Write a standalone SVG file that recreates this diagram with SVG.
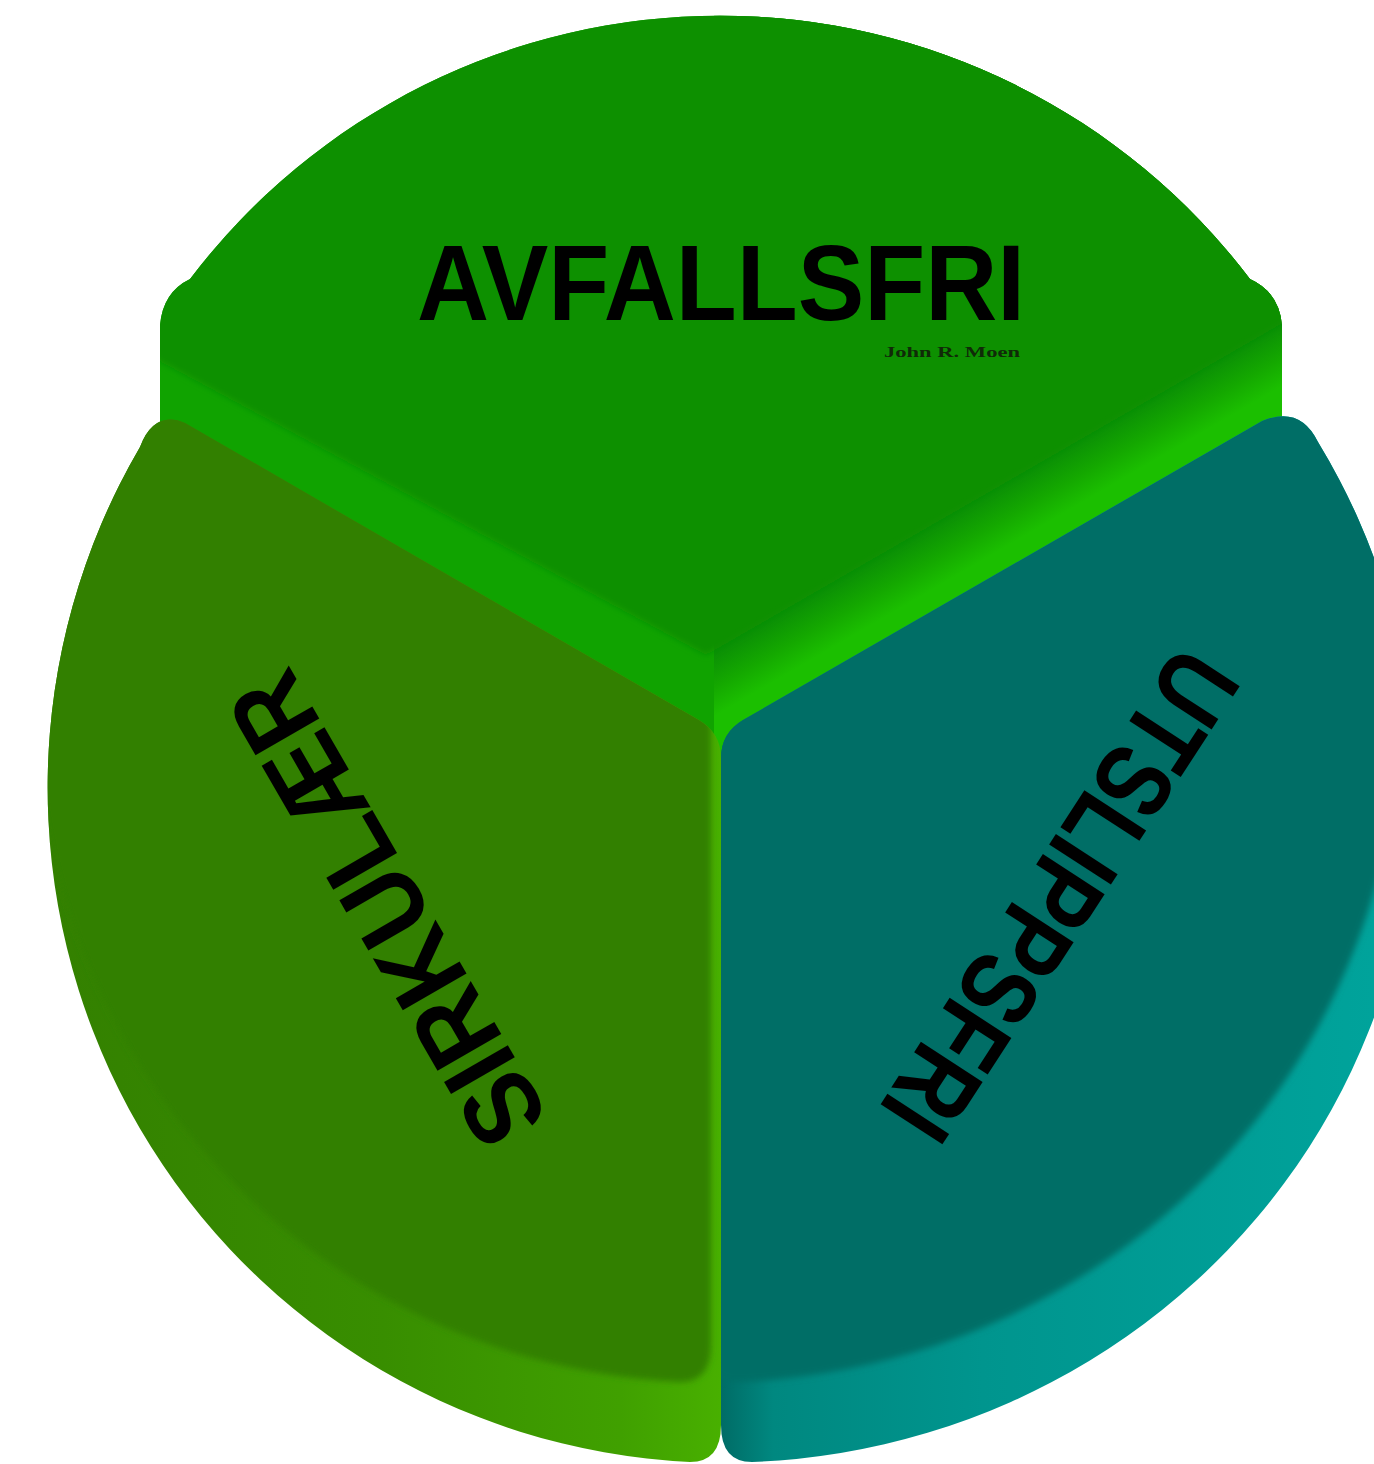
<svg xmlns="http://www.w3.org/2000/svg" xmlns:xlink="http://www.w3.org/1999/xlink" width="1374" height="1464" viewBox="0 0 1374 1464">
<defs>
<style>
.lbl{font-family:"Liberation Sans",Arial,sans-serif;font-weight:bold;fill:#000;font-size:107px}
.sig{font-family:"Liberation Serif","Times New Roman",serif;font-weight:bold;fill:#102a08;font-size:15.5px}
</style>
<path id="tSil" d="M160,425 L160,325 Q163,292 190,279 A665,665 0 0 1 1250,279 Q1279,292 1282,325 L1282,425 L721,775 Z"/>
<path id="lSil" d="M185,423 L699,720 Q721,733 721,758 L721,1425 Q721,1462 690,1462 A675,675 0 0 1 140,447 Q154,410 185,423 Z"/>
<path id="rSil" d="M1262,421 L743,720 Q721,733 721,758 L721,1425 Q721,1462 752,1462 A690,675 0 0 0 1318,442 Q1300,405 1262,421 Z"/>
<clipPath id="cTop"><use xlink:href="#tSil"/></clipPath>
<clipPath id="cL"><use xlink:href="#lSil"/></clipPath>
<clipPath id="cR"><use xlink:href="#rSil"/></clipPath>
<filter id="soft" x="-10%" y="-10%" width="120%" height="120%"><feGaussianBlur stdDeviation="3"/></filter>
<linearGradient id="gTopR" gradientUnits="userSpaceOnUse" x1="1000" y1="487" x2="1050" y2="573">
<stop offset="0" stop-color="#0b9005"/><stop offset="0.3" stop-color="#14a800"/><stop offset="0.55" stop-color="#1bbf00"/><stop offset="1" stop-color="#1bbf00"/>
</linearGradient>
<linearGradient id="gL" gradientUnits="userSpaceOnUse" x1="48" y1="0" x2="721" y2="0">
<stop offset="0" stop-color="#338000"/><stop offset="0.5" stop-color="#388e00"/><stop offset="0.85" stop-color="#40a000"/><stop offset="1" stop-color="#48b000"/>
</linearGradient>
<linearGradient id="gR" gradientUnits="userSpaceOnUse" x1="721" y1="0" x2="1374" y2="0">
<stop offset="0" stop-color="#006c66"/><stop offset="0.08" stop-color="#008880"/><stop offset="0.4" stop-color="#00958e"/><stop offset="1" stop-color="#00a39b"/>
</linearGradient>
</defs>
<rect width="1374" height="1464" fill="#ffffff"/>
<g id="connectors"/>
<g id="node-avfallsfri">
<g clip-path="url(#cTop)">
<rect x="140" y="0" width="1160" height="800" fill="#10a300"/>
<polygon points="714,0 1300,0 1300,800 714,800" fill="url(#gTopR)"/>
<polygon points="100,329 706,655 1300,313 1300,0 100,0" fill="#0b9005" filter="url(#soft)"/>
</g>
<text class="lbl" x="721" y="320" text-anchor="middle" textLength="608" lengthAdjust="spacingAndGlyphs">AVFALLSFRI</text>
<text class="sig" x="884" y="357" textLength="136" lengthAdjust="spacingAndGlyphs">John R. Moen</text>
</g>
<g id="node-sirkulaer">
<use xlink:href="#lSil" fill="url(#gL)"/>
<g clip-path="url(#cL)">
<use xlink:href="#lSil" transform="translate(-10,-80)" fill="#338000" filter="url(#soft)"/>
</g>
<text class="lbl" transform="translate(386,910) rotate(-120)" x="0" y="38" text-anchor="middle" textLength="525" lengthAdjust="spacingAndGlyphs">SIRKULÆR</text>
</g>
<g id="node-utslippsfri">
<use xlink:href="#rSil" fill="url(#gR)"/>
<g clip-path="url(#cR)">
<use xlink:href="#rSil" transform="translate(-15,-80)" fill="#006e66" filter="url(#soft)"/>
</g>
<text class="lbl" transform="translate(1061,896) rotate(123)" x="0" y="38" text-anchor="middle" textLength="557" lengthAdjust="spacingAndGlyphs">UTSLIPPSFRI</text>
</g>
</svg>
